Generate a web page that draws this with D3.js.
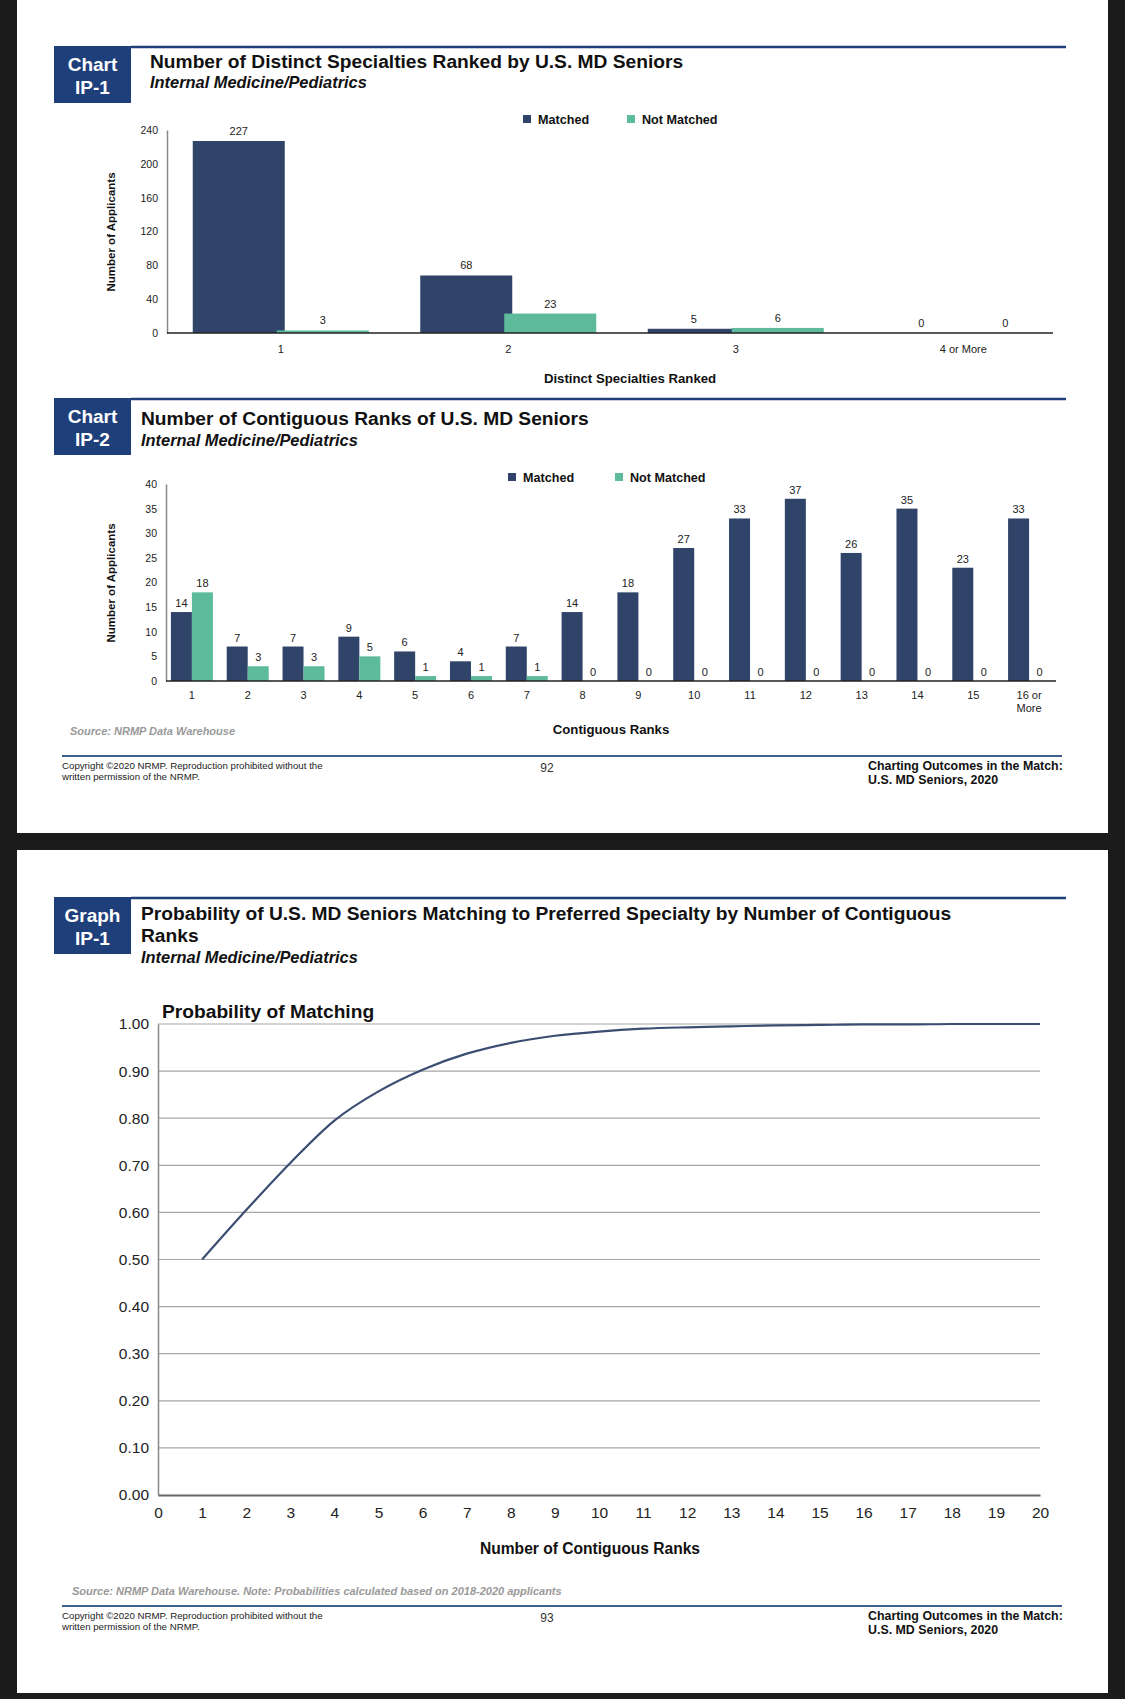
<!DOCTYPE html>
<html>
<head>
<meta charset="utf-8">
<script src="https://cdn.jsdelivr.net/npm/d3@7"></script>
<style>
  html, body { margin: 0; padding: 0; background: #1b1b1b; }
  svg { display: block; font-family: "Liberation Sans", Arial, sans-serif; }
</style>
</head>
<body>
<svg id="page" width="1125" height="1699"></svg>
<script>
// ---------------- DATA ----------------
const chart1Categories = ["1", "2", "3", "4 or More"];
const chart1Matched = [227, 68, 5, 0];
const chart1NotMatched = [3, 23, 6, 0];
const chart1YTicks = [0, 40, 80, 120, 160, 200, 240];

const chart2Categories = ["1", "2", "3", "4", "5", "6", "7", "8", "9", "10", "11", "12", "13", "14", "15", "16 or More"];
const chart2Matched = [14, 7, 7, 9, 6, 4, 7, 14, 18, 27, 33, 37, 26, 35, 23, 33];
const chart2NotMatched = [18, 3, 3, 5, 1, 1, 1, 0, 0, 0, 0, 0, 0, 0, 0, 0];
const chart2YTicks = [0, 5, 10, 15, 20, 25, 30, 35, 40];

const graphRanks = [1, 2, 3, 4, 5, 6, 7, 8, 9, 10, 11, 12, 13, 14, 15, 16, 17, 18, 19, 20];
const graphProbability = [0.50, 0.605, 0.705, 0.795, 0.857, 0.903, 0.937, 0.960, 0.975, 0.984, 0.990, 0.993, 0.995, 0.997, 0.998, 0.999, 0.999, 1.0, 1.0, 1.0];
const graphYTicks = [0, 0.1, 0.2, 0.3, 0.4, 0.5, 0.6, 0.7, 0.8, 0.9, 1.0];
const graphXTicks = d3.range(0, 21);

const seriesNames = ["Matched", "Not Matched"];
// ---------------- STYLE ----------------
const NAVY = "#1f3f7a";
const C_MATCHED = "#2f4468";
const C_NOT = "#5dbb9b";
const TXT = "#222";

const svg = d3.select("#page");

// pages
svg.append("rect").attr("x", 17).attr("y", 0).attr("width", 1091).attr("height", 833).attr("fill", "#fff");
svg.append("rect").attr("x", 17).attr("y", 850).attr("width", 1091).attr("height", 843).attr("fill", "#fff");

function header(g, o) {
  g.append("rect").attr("x", 54).attr("y", o.top).attr("width", 77).attr("height", 57).attr("fill", NAVY);
  g.append("line").attr("x1", 131).attr("x2", 1066).attr("y1", o.top + 1).attr("y2", o.top + 1)
    .attr("stroke", NAVY).attr("stroke-width", 2.5);
  g.append("text").attr("x", 92.5).attr("y", o.top + 25).attr("text-anchor", "middle")
    .attr("fill", "#fff").attr("font-weight", "bold").attr("font-size", 19).text(o.tag1);
  g.append("text").attr("x", 92.5).attr("y", o.top + 48).attr("text-anchor", "middle")
    .attr("fill", "#fff").attr("font-weight", "bold").attr("font-size", 19).text(o.tag2);
  o.titles.forEach((t, i) => {
    g.append("text").attr("x", o.tx).attr("y", o.titleY + i * 22).attr("fill", "#111")
      .attr("font-weight", "bold").attr("font-size", 19.2).text(t);
  });
  g.append("text").attr("x", o.tx).attr("y", o.subY).attr("fill", "#111")
    .attr("font-weight", "bold").attr("font-style", "italic").attr("font-size", 16.4).text("Internal Medicine/Pediatrics");
}

function footer(g, lineY, page) {
  g.append("line").attr("x1", 62).attr("x2", 1062).attr("y1", lineY).attr("y2", lineY)
    .attr("stroke", "#3f5f92").attr("stroke-width", 2);
  g.append("text").attr("x", 62).attr("y", lineY + 13).attr("font-size", 9.7).attr("fill", "#222")
    .text("Copyright \u00a92020 NRMP. Reproduction prohibited without the");
  g.append("text").attr("x", 62).attr("y", lineY + 24).attr("font-size", 9.7).attr("fill", "#222")
    .text("written permission of the NRMP.");
  g.append("text").attr("x", 547).attr("y", lineY + 16).attr("text-anchor", "middle").attr("font-size", 12).attr("fill", "#333")
    .text(page);
  g.append("text").attr("x", 868).attr("y", lineY + 14).attr("font-size", 12.4).attr("font-weight", "bold").attr("fill", "#111")
    .text("Charting Outcomes in the Match:");
  g.append("text").attr("x", 868).attr("y", lineY + 28).attr("font-size", 12.4).attr("font-weight", "bold").attr("fill", "#111")
    .text("U.S. MD Seniors, 2020");
}

function legend(g, x0, x1, cy) {
  [[x0, C_MATCHED, seriesNames[0]], [x1, C_NOT, seriesNames[1]]].forEach(([x, c, t]) => {
    g.append("rect").attr("x", x).attr("y", cy - 4).attr("width", 8).attr("height", 8).attr("fill", c);
    g.append("text").attr("x", x + 15).attr("y", cy + 4.5).attr("font-size", 12.6).attr("font-weight", "bold")
      .attr("fill", "#111").text(t);
  });
}

function barChart(g, o) {
  const x = d3.scaleBand().domain(o.cats).range(o.xRange).padding(0);
  const y = d3.scaleLinear().domain(o.yDomain).range(o.yRange);
  const data = o.cats.map((c, i) => ({ c, m: o.matched[i], n: o.notMatched[i] }));
  const bw = o.barW, ov = o.overlap;

  // y axis
  const ya = g.append("g").attr("transform", `translate(${o.axisX},0)`)
    .call(d3.axisLeft(y).tickValues(o.yTicks).tickSize(0).tickPadding(9));
  ya.select(".domain").attr("stroke", "#888").attr("stroke-width", 1.5);
  ya.selectAll("text").attr("font-size", 10.5).attr("fill", TXT).attr("font-family", null);

  // bars
  const grp = g.append("g");
  grp.selectAll("rect.m").data(data).join("rect").attr("class", "m")
    .attr("x", d => x(d.c) + x.bandwidth() / 2 - bw + ov / 2)
    .attr("y", d => y(d.m)).attr("width", bw).attr("height", d => y(0) - y(d.m)).attr("fill", C_MATCHED);
  grp.selectAll("rect.n").data(data).join("rect").attr("class", "n")
    .attr("x", d => x(d.c) + x.bandwidth() / 2 - ov / 2)
    .attr("y", d => y(d.n)).attr("width", bw).attr("height", d => y(0) - y(d.n)).attr("fill", C_NOT);

  // labels
  grp.selectAll("text.lm").data(data).join("text").attr("class", "lm")
    .attr("x", d => x(d.c) + x.bandwidth() / 2 - bw / 2 + ov / 2)
    .attr("y", d => y(d.m) - o.labelGap).attr("text-anchor", "middle").attr("font-size", o.labelSize).attr("fill", TXT)
    .text(d => d.m);
  grp.selectAll("text.ln").data(data).join("text").attr("class", "ln")
    .attr("x", d => x(d.c) + x.bandwidth() / 2 + bw / 2 - ov / 2)
    .attr("y", d => y(d.n) - o.labelGap).attr("text-anchor", "middle").attr("font-size", o.labelSize).attr("fill", TXT)
    .text(d => d.n);

  // x axis
  const xa = g.append("g").attr("transform", `translate(0,${y(0)})`)
    .call(d3.axisBottom(x).tickSize(0).tickPadding(o.xTickPad).tickFormat(() => ""));
  xa.select(".domain").attr("d", `M${o.axisX},0H${o.axisEnd}`).attr("stroke", "#222").attr("stroke-width", 1.6);
  xa.selectAll(".tick").each(function (d) {
    const parts = d.split(" ").length > 2 && o.wrapMore ? [d.replace(/ More$/, ""), "More"] : [d];
    const t = d3.select(this).select("text").attr("font-size", 11).attr("fill", TXT).attr("font-family", null);
    parts.forEach((p, i) => t.append("tspan").attr("x", 0).attr("dy", i === 0 ? "0.71em" : "1.2em").text(p));
  });

  // titles
  g.append("text").attr("transform", `translate(${o.yTitleX},${o.yTitleY}) rotate(-90)`).attr("text-anchor", "middle")
    .attr("font-size", 11.5).attr("font-weight", "bold").attr("fill", "#111").text("Number of Applicants");
  g.append("text").attr("x", o.xTitleX).attr("y", o.xTitleY).attr("text-anchor", "middle")
    .attr("font-size", 13.2).attr("font-weight", "bold").attr("fill", "#111").text(o.xTitle);
}

// ---------------- CHART IP-1 ----------------
const g1 = svg.append("g");
header(g1, { top: 46, tag1: "Chart", tag2: "IP-1", titles: ["Number of Distinct Specialties Ranked by U.S. MD Seniors"], tx: 150, titleY: 68, subY: 88 });
legend(g1, 523, 627, 119);
barChart(g1, {
  cats: chart1Categories, matched: chart1Matched, notMatched: chart1NotMatched,
  xRange: [167, 1077], yDomain: [0, 240], yRange: [333, 130], yTicks: chart1YTicks,
  barW: 92, overlap: 8, axisX: 167, axisEnd: 1053, labelGap: 6, labelSize: 11, xTickPad: 12,
  wrapMore: false, yTitleX: 115, yTitleY: 232, xTitleX: 630, xTitleY: 383, xTitle: "Distinct Specialties Ranked"
});

// ---------------- CHART IP-2 ----------------
const g2 = svg.append("g");
header(g2, { top: 398, tag1: "Chart", tag2: "IP-2", titles: ["Number of Contiguous Ranks of U.S. MD Seniors"], tx: 141, titleY: 425, subY: 446 });
legend(g2, 508, 615, 477);
barChart(g2, {
  cats: chart2Categories, matched: chart2Matched, notMatched: chart2NotMatched,
  xRange: [164, 1057], yDomain: [0, 40], yRange: [681, 484], yTicks: chart2YTicks,
  barW: 21, overlap: 0, axisX: 166, axisEnd: 1056, labelGap: 5, labelSize: 11, xTickPad: 10,
  wrapMore: true, yTitleX: 115, yTitleY: 583, xTitleX: 611, xTitleY: 734, xTitle: "Contiguous Ranks"
});
g2.append("text").attr("x", 70).attr("y", 735).attr("font-size", 11).attr("font-weight", "bold").attr("font-style", "italic")
  .attr("fill", "#999").text("Source: NRMP Data Warehouse");
footer(g2, 756, "92");

// ---------------- GRAPH IP-1 ----------------
const g3 = svg.append("g");
header(g3, { top: 897, tag1: "Graph", tag2: "IP-1",
  titles: ["Probability of U.S. MD Seniors Matching to Preferred Specialty by Number of Contiguous", "Ranks"],
  tx: 141, titleY: 920, subY: 963 });

const gx = d3.scaleLinear().domain([0, 20]).range([158, 1040]);
const gy = d3.scaleLinear().domain([0, 1]).range([1495, 1024]);

g3.append("g").selectAll("line").data(graphYTicks.filter(v => v > 0)).join("line")
  .attr("x1", gx(0)).attr("x2", gx(20)).attr("y1", d => gy(d)).attr("y2", d => gy(d))
  .attr("stroke", "#a6a6a6").attr("stroke-width", 1.2);

const gya = g3.append("g").attr("transform", `translate(${gx(0)},0)`)
  .call(d3.axisLeft(gy).tickValues(graphYTicks).tickFormat(d3.format(".2f")).tickSize(0).tickPadding(9));
gya.select(".domain").attr("stroke", "#888").attr("stroke-width", 1.5);
gya.selectAll("text").attr("font-size", 15.5).attr("fill", TXT).attr("font-family", null);

const gxa = g3.append("g").attr("transform", `translate(0,${gy(0)})`)
  .call(d3.axisBottom(gx).tickValues(graphXTicks).tickFormat(d3.format("d")).tickSize(0).tickPadding(12));
gxa.select(".domain").attr("stroke", "#666").attr("stroke-width", 2.2);
gxa.selectAll("text").attr("font-size", 15.5).attr("fill", TXT).attr("font-family", null);

g3.append("path").datum(graphRanks.map((r, i) => [r, graphProbability[i]]))
  .attr("fill", "none").attr("stroke", "#3b4e72").attr("stroke-width", 2.2)
  .attr("d", d3.line().x(d => gx(d[0])).y(d => gy(d[1])).curve(d3.curveMonotoneX));

g3.append("text").attr("x", 162).attr("y", 1018).attr("font-size", 19.2).attr("font-weight", "bold").attr("fill", "#111")
  .text("Probability of Matching");
g3.append("text").attr("x", 590).attr("y", 1554).attr("text-anchor", "middle").attr("font-size", 15.6).attr("font-weight", "bold")
  .attr("fill", "#111").text("Number of Contiguous Ranks");
g3.append("text").attr("x", 72).attr("y", 1595).attr("font-size", 11).attr("font-weight", "bold").attr("font-style", "italic")
  .attr("fill", "#999").text("Source: NRMP Data Warehouse. Note: Probabilities calculated based on 2018-2020 applicants");
footer(g3, 1606, "93");
</script>
</body>
</html>
